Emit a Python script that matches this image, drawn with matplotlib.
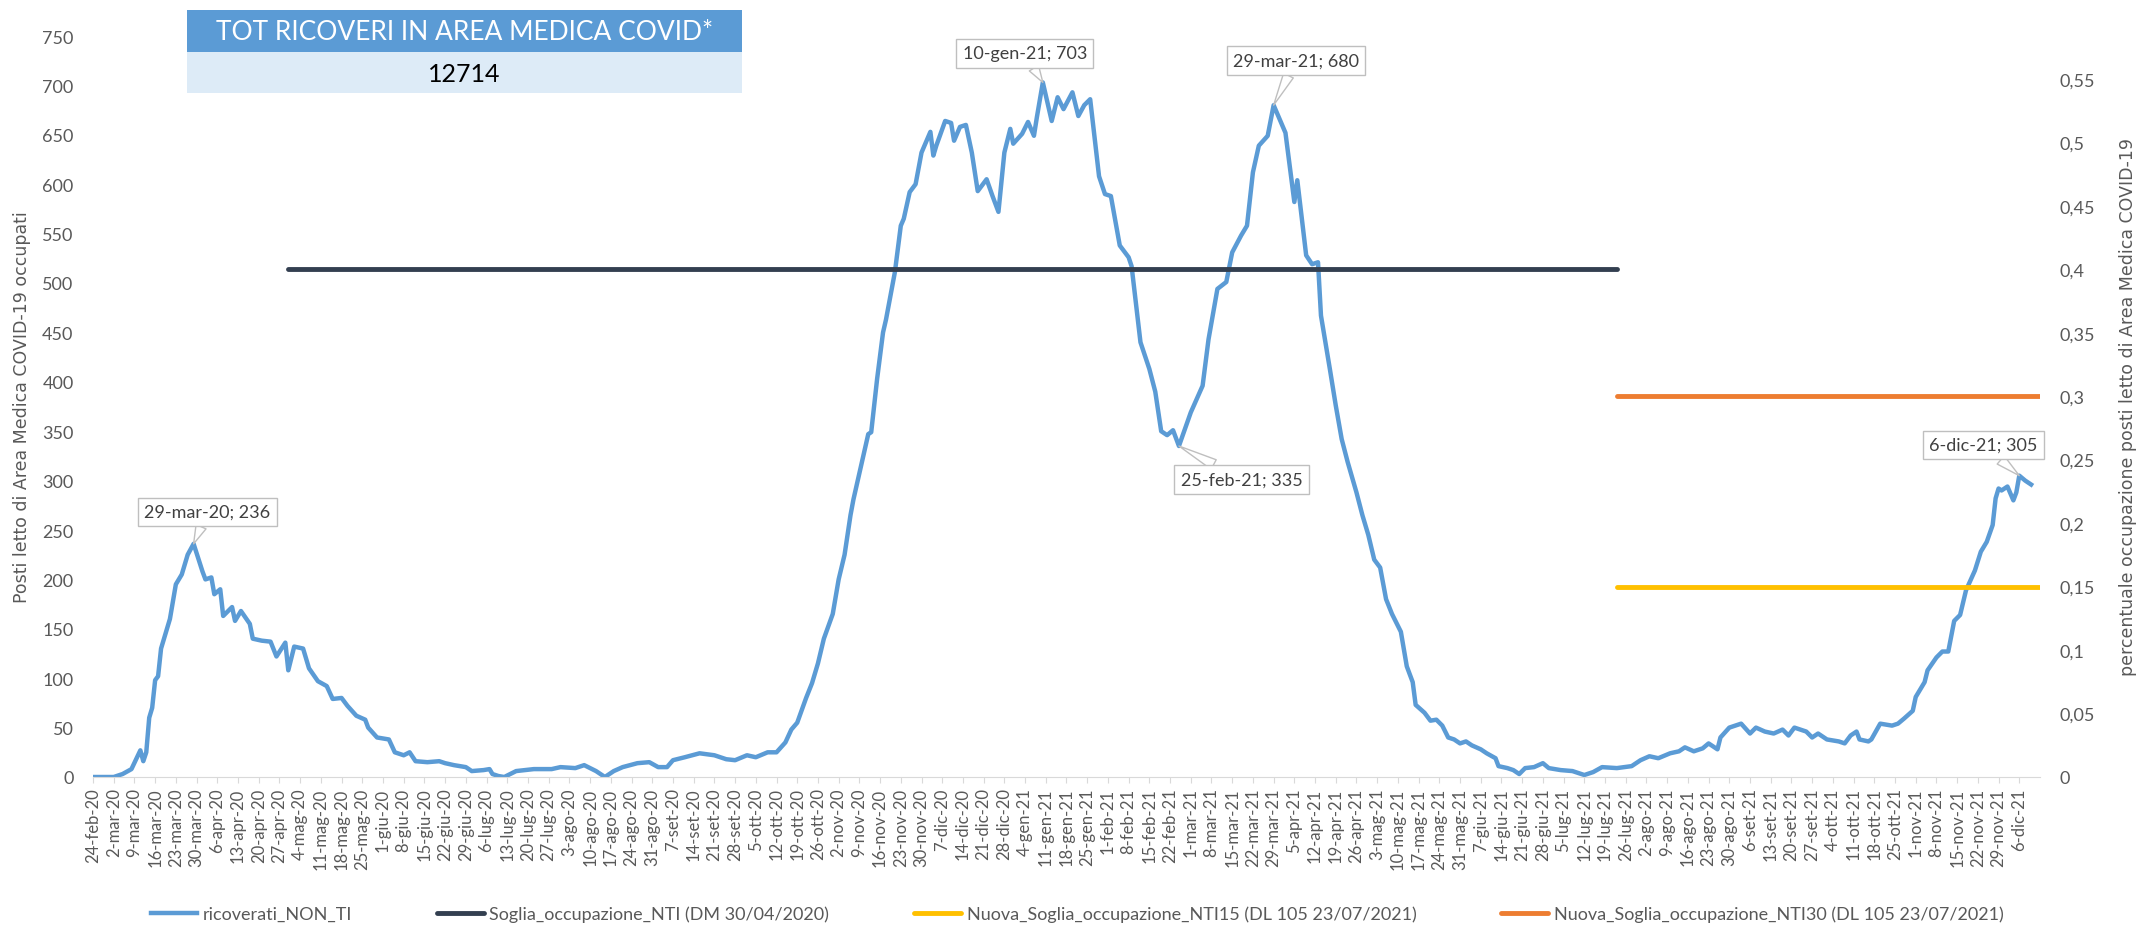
import numpy as np
import pandas as pd
import matplotlib
matplotlib.use("Agg")
import matplotlib.pyplot as plt
from matplotlib.patches import Rectangle

plt.rcParams['font.family'] = ['Lato', 'DejaVu Sans']

# daily-ish readings of the curve (posti letto occupati)
dates_2020a = ['2020-02-24', '2020-03-02', '2020-03-05', '2020-03-08', '2020-03-11', '2020-03-12',
               '2020-03-13', '2020-03-14', '2020-03-15', '2020-03-16', '2020-03-17', '2020-03-18',
               '2020-03-21', '2020-03-23', '2020-03-25', '2020-03-27', '2020-03-29', '2020-04-01',
               '2020-04-02', '2020-04-04', '2020-04-05', '2020-04-07', '2020-04-08', '2020-04-11',
               '2020-04-12', '2020-04-14', '2020-04-17', '2020-04-18', '2020-04-21', '2020-04-24',
               '2020-04-26', '2020-04-29', '2020-04-30', '2020-05-02', '2020-05-05', '2020-05-07',
               '2020-05-10', '2020-05-13', '2020-05-15', '2020-05-18', '2020-05-20', '2020-05-23',
               '2020-05-26', '2020-05-27', '2020-05-30', '2020-06-03', '2020-06-05', '2020-06-08',
               '2020-06-10', '2020-06-12', '2020-06-16', '2020-06-20', '2020-06-22', '2020-06-25',
               '2020-06-29', '2020-07-01', '2020-07-05', '2020-07-07', '2020-07-08', '2020-07-10',
               '2020-07-12', '2020-07-16', '2020-07-22', '2020-07-28', '2020-07-31', '2020-08-05',
               '2020-08-08', '2020-08-12', '2020-08-15', '2020-08-18', '2020-08-21', '2020-08-26',
               '2020-08-30', '2020-09-02', '2020-09-05', '2020-09-07', '2020-09-11', '2020-09-16']
values_2020a = [0, 0, 3, 8, 27, 16, 25, 60, 70, 98, 102, 130, 160, 195, 205, 225, 236, 208,
                200, 202, 185, 190, 163, 172, 158, 168, 155, 140, 138, 137, 122, 136, 108, 132,
                130, 110, 97, 92, 79, 80, 72, 62, 58, 50, 40, 38, 25, 22, 25, 16, 15, 16, 14,
                12, 10, 6, 7, 8, 3, 1, 0, 6, 8, 8, 10, 9, 12, 6, 0, 6, 10, 14, 15, 10, 10, 17,
                20, 24]

dates_wave2 = ['2020-09-21', '2020-09-25', '2020-09-28', '2020-10-02', '2020-10-05', '2020-10-09',
               '2020-10-12', '2020-10-15', '2020-10-17', '2020-10-19', '2020-10-22', '2020-10-24',
               '2020-10-26', '2020-10-28', '2020-10-31', '2020-11-02', '2020-11-04', '2020-11-06',
               '2020-11-07', '2020-11-12', '2020-11-13', '2020-11-15', '2020-11-17', '2020-11-18',
               '2020-11-21', '2020-11-23', '2020-11-24', '2020-11-26', '2020-11-28', '2020-11-30',
               '2020-12-03', '2020-12-04', '2020-12-05', '2020-12-08', '2020-12-10', '2020-12-11',
               '2020-12-13', '2020-12-15', '2020-12-17', '2020-12-19', '2020-12-22', '2020-12-24',
               '2020-12-26', '2020-12-28', '2020-12-30', '2020-12-31', '2021-01-03', '2021-01-05',
               '2021-01-07', '2021-01-08', '2021-01-10', '2021-01-13', '2021-01-15', '2021-01-17',
               '2021-01-20', '2021-01-22', '2021-01-24', '2021-01-26', '2021-01-29', '2021-01-31',
               '2021-02-02', '2021-02-05', '2021-02-08', '2021-02-09', '2021-02-12', '2021-02-15',
               '2021-02-17', '2021-02-19', '2021-02-21', '2021-02-23', '2021-02-25']
values_wave2 = [22, 18, 17, 22, 20, 25, 25, 35, 48, 55, 80, 95, 115, 140, 165, 200, 225, 265,
                281, 347, 349, 403, 450, 463, 511, 558, 565, 592, 600, 632, 653, 629, 639, 664,
                662, 644, 658, 660, 632, 593, 605, 588, 572, 632, 656, 641, 651, 663, 649, 668,
                703, 664, 688, 676, 693, 669, 680, 686, 608, 590, 588, 538, 526, 517, 440, 413,
                390, 350, 346, 351, 335]

dates_wave3 = ['2021-03-01', '2021-03-05', '2021-03-07', '2021-03-10', '2021-03-13', '2021-03-15',
               '2021-03-18', '2021-03-20', '2021-03-22', '2021-03-24', '2021-03-27', '2021-03-29',
               '2021-04-02', '2021-04-05', '2021-04-06', '2021-04-09', '2021-04-11', '2021-04-13',
               '2021-04-14', '2021-04-17', '2021-04-19', '2021-04-21', '2021-04-23', '2021-04-26',
               '2021-04-28', '2021-04-30', '2021-05-02', '2021-05-04', '2021-05-06', '2021-05-08',
               '2021-05-11', '2021-05-13', '2021-05-15', '2021-05-16', '2021-05-19', '2021-05-21',
               '2021-05-23', '2021-05-25', '2021-05-27', '2021-05-29', '2021-05-31', '2021-06-02',
               '2021-06-04', '2021-06-07', '2021-06-09', '2021-06-12', '2021-06-13', '2021-06-16',
               '2021-06-18', '2021-06-20', '2021-06-22', '2021-06-25', '2021-06-28', '2021-06-30']
values_wave3 = [369, 396, 443, 494, 501, 531, 548, 558, 612, 639, 649, 680, 652, 582, 604, 528,
                519, 521, 467, 413, 376, 342, 319, 288, 265, 245, 220, 212, 180, 165, 147, 112,
                96, 73, 65, 57, 58, 52, 40, 38, 34, 36, 32, 28, 24, 19, 11, 9, 7, 3, 9, 10, 14, 9]

dates_2021b = ['2021-07-04', '2021-07-08', '2021-07-12', '2021-07-15', '2021-07-18', '2021-07-23',
               '2021-07-28', '2021-07-31', '2021-08-03', '2021-08-06', '2021-08-10', '2021-08-13',
               '2021-08-15', '2021-08-18', '2021-08-21', '2021-08-23', '2021-08-26', '2021-08-27',
               '2021-08-30', '2021-09-03', '2021-09-06', '2021-09-08', '2021-09-11', '2021-09-14',
               '2021-09-17', '2021-09-19', '2021-09-21', '2021-09-25', '2021-09-27', '2021-09-29',
               '2021-10-02', '2021-10-06', '2021-10-08', '2021-10-10', '2021-10-12', '2021-10-13',
               '2021-10-16', '2021-10-17', '2021-10-20', '2021-10-24', '2021-10-26', '2021-10-28',
               '2021-10-31', '2021-11-01', '2021-11-04', '2021-11-05', '2021-11-08', '2021-11-10',
               '2021-11-12', '2021-11-14', '2021-11-16', '2021-11-18', '2021-11-21', '2021-11-23',
               '2021-11-25', '2021-11-27', '2021-11-28', '2021-11-29', '2021-11-30', '2021-12-02',
               '2021-12-04', '2021-12-05', '2021-12-06', '2021-12-08', '2021-12-10']
values_2021b = [7, 6, 2, 5, 10, 9, 11, 17, 21, 19, 24, 26, 30, 26, 29, 34, 28, 40, 50, 54, 44,
                50, 46, 44, 48, 42, 50, 46, 40, 44, 38, 36, 34, 42, 46, 38, 36, 38, 54, 52, 54,
                59, 67, 81, 96, 108, 121, 127, 127, 158, 164, 189, 209, 228, 238, 255, 282, 292,
                290, 294, 280, 288, 305, 300, 296]

# soglie (frazione dei posti letto) and their validity periods
BEDS_TOTAL = 1285
soglia_nti = 0.40
soglia_nti15 = 0.15
soglia_nti30 = 0.30
soglia_nti_period = ['2020-04-30', '2021-07-23']
nuova_soglia_period = ['2021-07-23', '2021-12-13']

tot_ricoveri = 12714
annotated_dates = ['2020-03-29', '2021-01-10', '2021-02-25', '2021-03-29', '2021-12-06']

mesi = ['gen', 'feb', 'mar', 'apr', 'mag', 'giu', 'lug', 'ago', 'set', 'ott', 'nov', 'dic']

series = pd.Series(values_2020a + values_wave2 + values_wave3 + values_2021b,
                   index=pd.to_datetime(dates_2020a + dates_wave2 + dates_wave3 + dates_2021b))

BLUE = '#5B9BD5'
DARK = '#333F50'
YELLOW = '#FFC000'
ORANGE = '#ED7D31'
GREY_TXT = '#595959'

W, H = 2141, 929
fig = plt.figure(figsize=(W / 100, H / 100), dpi=100)
ax = fig.add_axes([93 / W, 1 - 778 / H, (2040 - 93) / W, (778 - 37) / H])
ax2 = ax.twinx()

l1, = ax.plot(series.index, series.values, color=BLUE, lw=3.2, solid_joinstyle='round')

d_nti = pd.to_datetime(soglia_nti_period)
d_new = pd.to_datetime(nuova_soglia_period)
l2, = ax2.plot(d_nti, [soglia_nti] * 2, color=DARK, lw=3.5, solid_capstyle='round')
l3, = ax2.plot(d_new, [soglia_nti15] * 2, color=YELLOW, lw=3.5, solid_capstyle='round')
l4, = ax2.plot(d_new, [soglia_nti30] * 2, color=ORANGE, lw=3.5, solid_capstyle='round')

ax.set_xlim(pd.Timestamp('2020-02-24'), pd.Timestamp('2021-12-13'))
ax.set_ylim(0, 750)
ax2.set_ylim(0, 750 / BEDS_TOTAL)

ax.set_yticks(np.arange(0, 751, 50))
r_ticks = np.arange(0, 0.551, 0.05)
ax2.set_yticks(r_ticks)
ax2.set_yticklabels([f"{v:.2f}".rstrip('0').rstrip('.').replace('.', ',') for v in r_ticks])

mondays = pd.date_range('2020-02-24', '2021-12-06', freq='7D')
ax.set_xticks(mondays)
ax.set_xticklabels([f"{d.day}-{mesi[d.month - 1]}-{d.year % 100:02d}" for d in mondays],
                   rotation=90)

for a in (ax, ax2):
    for s in ('top', 'left', 'right'):
        a.spines[s].set_visible(False)
    a.spines['bottom'].set_color('#D9D9D9')
ax2.spines['bottom'].set_visible(False)

ax.tick_params(axis='x', length=4.5, color='#D9D9D9', labelsize=12, labelcolor=GREY_TXT, pad=3)
ax.tick_params(axis='y', length=0, labelsize=13, labelcolor=GREY_TXT, pad=14)
ax2.tick_params(axis='y', length=0, labelsize=13, labelcolor=GREY_TXT, pad=14)

# axis titles
fig.text(22 / W, 1 - 407 / H, 'Posti letto di Area Medica COVID-19 occupati', rotation=90,
         ha='center', va='center', fontsize=12.5, color=GREY_TXT, family='DejaVu Sans')
fig.text(2128 / W, 1 - 407 / H, 'percentuale occupazione posti letto di Area Medica COVID-19',
         rotation=90, ha='center', va='center', fontsize=12.5, color=GREY_TXT,
         family='DejaVu Sans')

# data labels with callouts
offsets = [(10, 23), (-13, 21), (45, -24), (16, 32), (-26, 22)]
for dstr, off in zip(annotated_dates, offsets):
    d = pd.Timestamp(dstr)
    v = series[d]
    txt = f"{d.day}-{mesi[d.month - 1]}-{d.year % 100:02d}; {v}"
    ax.annotate(txt, xy=(d, v), xytext=off, textcoords='offset points', ha='center', va='center',
                fontsize=13, color='#404040',
                bbox=dict(boxstyle='square,pad=0.35', fc='white', ec='#BFBFBF', lw=1),
                arrowprops=dict(arrowstyle='wedge,tail_width=0.6', fc='white', ec='#BFBFBF',
                                lw=1, shrinkA=0, shrinkB=0),
                zorder=5)

# totals box
x0, x1 = 187 / W, 742 / W
fig.patches.append(Rectangle((x0, 1 - 53 / H), x1 - x0, 42 / H, transform=fig.transFigure,
                             fc=BLUE, ec='none'))
fig.patches.append(Rectangle((x0, 1 - 94 / H), x1 - x0, 41 / H, transform=fig.transFigure,
                             fc='#DDEBF7', ec='none'))
fig.text((x0 + x1) / 2, 1 - 32 / H, 'TOT RICOVERI IN AREA MEDICA COVID*', ha='center',
         va='center', fontsize=19, color='white')
fig.text((x0 + x1) / 2, 1 - 74 / H, str(tot_ricoveri), ha='center', va='center',
         fontsize=18, color='black')

fig.legend([l1, l2, l3, l4],
           ['ricoverati_NON_TI', 'Soglia_occupazione_NTI (DM 30/04/2020)',
            'Nuova_Soglia_occupazione_NTI15 (DL 105 23/07/2021)',
            'Nuova_Soglia_occupazione_NTI30 (DL 105 23/07/2021)'],
           loc='center', bbox_to_anchor=(0.503, 1 - 915 / H), ncol=4, frameon=False,
           fontsize=13, labelcolor=GREY_TXT, columnspacing=4.7, handlelength=2.6,
           handletextpad=0.3)

fig.savefig('out.png', dpi=100)
